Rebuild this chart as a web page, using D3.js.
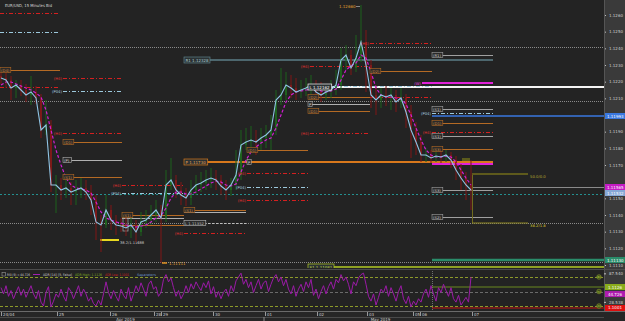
<!DOCTYPE html>
<html><head><meta charset="utf-8">
<script src="https://cdn.jsdelivr.net/npm/d3@7"></script>
<style>
html,body{margin:0;padding:0;background:#232323;overflow:hidden;}
svg{display:block;}
text{font-family:"DejaVu Sans",sans-serif;}
</style></head><body>
<svg id="c" width="625" height="321"></svg>
<script>
// ---------- DATA ----------
const firstOpen = 1.12234;
const closes = [1.12222,1.12210,1.12162,1.12180,1.12150,1.12120,1.12138,1.12102,1.11910,1.11940,
 1.11580,1.11580,1.11550,1.11562,1.11538,1.11550,1.11562,1.11538,1.11490,1.11358,
 1.11340,1.11430,1.11370,1.11340,1.11334,1.11322,1.11340,1.11298,1.11358,1.11370,
 1.11400,1.11430,1.11382,1.11580,1.11610,1.11550,1.11520,1.11502,1.11550,1.11580,
 1.11592,1.11610,1.11622,1.11610,1.11574,1.11550,1.11580,1.11640,1.11820,1.11838,
 1.11850,1.11838,1.11862,1.11880,1.11910,1.12090,1.12120,1.12180,1.12162,1.12138,
 1.12150,1.12162,1.12180,1.12138,1.12120,1.12138,1.12150,1.12180,1.12330,1.12360,
 1.12282,1.12342,1.12438,1.12300,1.12120,1.12090,1.12120,1.12108,1.12120,1.12078,
 1.12102,1.12018,1.11910,1.11838,1.11760,1.11760,1.11742,1.11754,1.11748,1.11760,
 1.11730,1.11670,1.11622,1.11580,1.11550];
const highs = [1.1227,1.12258,1.12234,1.1221,1.1221,1.12186,1.12234,1.12174,1.12126,1.1209,
 1.1197,1.1164,1.11622,1.1161,1.11598,1.1161,1.11622,1.1161,1.1158,1.1152,
 1.1140,1.1152,1.1146,1.1140,1.11382,1.11382,1.1140,1.1137,1.11418,1.1143,
 1.1146,1.1149,1.1146,1.1167,1.11742,1.1164,1.11598,1.11562,1.1161,1.1164,
 1.11658,1.1167,1.11682,1.1167,1.1164,1.1161,1.11622,1.1179,1.1191,1.11922,
 1.11934,1.1191,1.11922,1.1194,1.1200,1.1215,1.12282,1.12258,1.1224,1.12222,
 1.1221,1.12222,1.1224,1.1221,1.12198,1.12186,1.1221,1.1227,1.12402,1.1242,
 1.1239,1.1248,1.1266,1.1251,1.1233,1.1218,1.12162,1.12174,1.12162,1.1215,
 1.12162,1.12126,1.1206,1.11958,1.1188,1.11802,1.1179,1.1179,1.1179,1.1179,
 1.11778,1.11754,1.11706,1.11658,1.1173];
const lows = [1.12186,1.12162,1.1209,1.12102,1.12114,1.12078,1.1206,1.12066,1.11862,1.1188,
 1.11538,1.11412,1.1149,1.11502,1.1146,1.1146,1.11502,1.1149,1.1140,1.1125,
 1.11178,1.11322,1.1131,1.1128,1.11298,1.11274,1.11262,1.11238,1.11274,1.11322,
 1.1134,1.11358,1.11112,1.11358,1.1155,1.11502,1.1146,1.11454,1.1146,1.1152,
 1.11538,1.1155,1.11562,1.1155,1.1152,1.1149,1.11514,1.1155,1.1161,1.1179,
 1.1179,1.1176,1.1179,1.11802,1.1179,1.1188,1.1206,1.1209,1.12102,1.1209,
 1.12102,1.12114,1.1212,1.1209,1.12078,1.1209,1.12102,1.1212,1.1215,1.1227,
 1.1224,1.12258,1.12318,1.12138,1.12042,1.1200,1.12042,1.12054,1.1203,1.12018,
 1.12042,1.11922,1.11742,1.1176,1.11718,1.11718,1.11712,1.11718,1.11712,1.11718,
 1.11682,1.1161,1.1155,1.1149,1.1143];
const maValues = [1.1218,1.12198,1.12198,1.12186,1.12174,1.12162,1.1215,1.12132,1.12108,1.1203,
 1.1191,1.1179,1.1170,1.11622,1.1158,1.11562,1.11556,1.1155,1.11532,1.11478,
 1.11418,1.11382,1.1137,1.11358,1.11352,1.1134,1.11334,1.11328,1.11334,1.1134,
 1.11358,1.11382,1.11394,1.11442,1.11502,1.11538,1.11538,1.11526,1.11526,1.11538,
 1.11556,1.11574,1.11592,1.11604,1.11598,1.1158,1.11574,1.11586,1.11658,1.1173,
 1.11778,1.11808,1.11832,1.1185,1.11862,1.11922,1.1200,1.12078,1.1212,1.12138,
 1.12144,1.1215,1.12156,1.12156,1.12144,1.12138,1.12144,1.12156,1.1221,1.1227,
 1.12294,1.12312,1.1236,1.12342,1.12258,1.12162,1.1212,1.12108,1.12108,1.12102,
 1.12096,1.12066,1.1200,1.11922,1.1185,1.1179,1.1176,1.11748,1.11748,1.11754,
 1.11748,1.11718,1.1167,1.11622,1.1158];
// RSI sampled every half bar
const rsiValues = [58,45,62,40,52,35,48,60,42,55,
 38,50,62,45,35,52,28,20,48,60,
 18,30,45,38,55,40,30,58,50,35,
 48,62,40,55,45,30,38,25,20,32,
 22,45,70,48,35,52,40,30,55,42,
 35,58,30,45,62,50,68,55,40,65,
 72,55,60,40,48,75,85,70,78,58,
 40,52,35,45,62,48,66,55,70,60,
 52,68,58,72,45,60,38,50,35,48,
 55,40,62,50,72,80,88,65,75,58,
 70,48,62,75,55,68,72,50,65,78,
 85,70,80,62,75,55,45,62,40,55,
 65,50,70,58,75,42,55,35,50,62,
 45,60,70,55,75,68,85,72,80,65,
 45,70,62,78,85,88,65,40,30,45,
 22,38,55,48,62,40,58,45,30,50,
 62,35,25,40,18,30,22,35,28,45,
 55,38,62,45,30,58,48,65,52,40,
 58,35,28,42,22,30,38,28,80];

const priceTicks = [1.1260,1.1250,1.1240,1.1230,1.1220,1.1210,1.1190,1.1180,1.1170,1.1150,1.1140,1.1130,1.1120,1.1110];
const timeTickPos = [0.2,11.4,22,30.8,32.2,42.6,53,63.4,73.4,82.6,84,94.4];
const timeTickLabels = ["24/04","25","26","28","29","30","01","02","03","05","06","07"];
const monthPos = [25,76];
const monthLabels = ["Apr 2019","May 2019"];
const monthSplit = 52.8;

// level segments: [kind, price, startBar, endBar, label]
const levelRows = [
 ["H4",1.12612,0,12,""],["P04",1.12498,0,12,""],["D",1.12270,0,12,"(D4)"],["H4",1.12168,0,12,""],
 ["H4",1.12222,12.6,24.4,"(H4)"],["P04",1.12144,12.6,24.4,"(P04)"],["H4",1.11892,12.6,24.4,"(H4)"],
 ["D",1.11838,12.6,24.4,"(D1)"],["P",1.11730,12.6,24.4,"(P)"],["D",1.11628,12.6,24.4,"(S1)"],
 ["H4",1.11580,24.4,36.8,"(H4)"],["P04",1.11532,24.4,36.8,"(P04)"],["D",1.11400,24.4,36.8,"(S1)"],
 ["P",1.11382,24.4,36.8,""],["D",1.11340,24.4,36.8,""],["Y",1.11250,20,23.8,""],
 ["D",1.11430,36.8,49.2,"(S1)"],["P",1.11418,36.8,49.2,""],["PD",1.11352,36.8,49.2,"L 1.11352"],["H4",1.11292,36.8,49.2,"(H4)"],
 ["D",1.11790,49.4,61.6,"(D1)"],["P",1.11718,49.4,61.6,"P"],["H4",1.11652,49.4,61.6,"(H4)"],
 ["P04",1.11568,49.4,61.6,"(P04)"],["H4",1.11490,49.4,61.6,"(H4)"],
 ["H4",1.12294,62,73.6,"(H4)"],["D",1.12108,61.6,74,"(D2)"],["P",1.12066,61.6,74,"P"],
 ["D",1.12024,61.6,74,"(D1)"],["H4",1.11892,62,74,"(H4)"],
 ["H4",1.12432,74,86.4,"(H4)"],["D",1.12264,74,86.4,"(D2)"],["H4",1.12108,74,86.4,""],
 ["S",1.12360,86.4,98.6,"(R1)"],["W",1.12192,84.4,98.6,"(W)"],["S",1.12036,86.4,98.6,"(S1)"],
 ["P04",1.12012,86.4,98.6,"(P04)"],["D",1.11952,86.4,98.6,"(D1)"],["H4",1.11898,86.4,98.6,"(H4)"],
 ["S",1.11874,86.4,98.6,"(S1)"],["D",1.11796,86.4,98.6,"(S3)"],["S",1.11550,86.4,98.6,"(S3)"],
 ["S",1.11388,86.4,98.6,"(S2)"],
 ["PW",1.11718,36.8,98.6,"P 1.11730"],["W",1.11706,86.4,98.6,""],
 ["R1",1.12330,36.8,98.6,"R1 1.12328"],
 ["WH",1.12168,61.6,120.8,"L 1.12162"],["P04",1.12174,61.6,86.4,""],
 ["BLUE",1.11994,86.4,120.8,""],["TEAL",1.11130,86.4,120.8,""],
 ["S1W",1.11088,61.6,120.8,"S1 1.11081"],["CUR",1.11568,94.4,120.8,""]
];
const gridLevels = [1.12408,1.12084,1.11352,1.11118];
const gridTeal = [1.11526];
const fibTop = 1.11646, fibBottom = 1.11352, fibStart = 94.4, fibEnd = 105.6;
const fibLabels = ["50.0/0.0","38.2/1.8"];
const axisTags = [[1.11994,"1.11993","#3a78e0"],[1.11568,"1.11565","#c41cc4"],[1.11532,"1.11532","#86a8d6"],[1.11130,"1.11130","#2a8c6a"]];
const rsiAxisTicks = [87.54,28.538];
const rsiGuides = [80,50,20];
const adrHigh = 59.3, adrLow = 15.9;
const rsiTags = [[59.3,"1.1126","#8aac1c"],[44.726,"44.726","#b01cb0"],[15.9,"1.1001","#e01010"]];

// ---------- SETUP ----------
const svg = d3.select("#c");
const W = 625, PR = 604, MAINB = 268;
const x = d3.scaleLinear().domain([0,120.8]).range([0,PR]);
const y = d3.scaleLinear().domain([1.11082,1.1269]).range([MAINB,0]);
const ry = d3.scaleLinear().domain([20,80]).range([306,277]);

svg.append("rect").attr("width",W).attr("height",321).attr("fill","#232323");
svg.append("rect").attr("x",PR).attr("y",0).attr("width",W-PR).attr("height",312).attr("fill","#3a3a3a");
svg.append("rect").attr("x",0).attr("y",312).attr("width",W).attr("height",9).attr("fill","#262626");

const defs = svg.append("defs");
defs.append("clipPath").attr("id","mc").append("rect").attr("x",0).attr("y",0).attr("width",PR).attr("height",MAINB);
defs.append("clipPath").attr("id","rc").append("rect").attr("x",0).attr("y",270).attr("width",PR).attr("height",41);

const main = svg.append("g").attr("clip-path","url(#mc)");

// title
svg.append("text").attr("x",5).attr("y",6.5).attr("font-size",4).attr("fill","#d8d8d8")
 .attr("textLength",47).attr("lengthAdjust","spacingAndGlyphs").text("EUR/USD, 15 Minutes Bid");

// grid dotted lines
main.selectAll(".gl").data(gridLevels).join("line")
 .attr("x1",0).attr("x2",PR).attr("y1",d=>Math.round(y(d))+0.5).attr("y2",d=>Math.round(y(d))+0.5)
 .attr("stroke","#8a8a8a").attr("stroke-dasharray","1,1").attr("stroke-width",1);
main.selectAll(".gt").data(gridTeal).join("line")
 .attr("x1",0).attr("x2",PR).attr("y1",d=>Math.round(y(d))+0.5).attr("y2",d=>Math.round(y(d))+0.5)
 .attr("stroke","#249090").attr("stroke-dasharray","2,2").attr("stroke-width",1);

// level style map
const st = {
 H4:{c:"#d42020",w:1,d:"4,2,1,2",tc:"#e03030",lab:"before"},
 P04:{c:"#9cc8dc",w:1,d:"4,2,1,2",tc:"#a8d0e0",lab:"before"},
 D:{c:"#b46a24",w:1,d:null,tc:"#d48a3a",lab:"box"},
 P:{c:"#b0b0b0",w:1,d:null,tc:"#d0d0d0",lab:"box"},
 S:{c:"#a0a0a0",w:1,d:null,tc:"#d0d0d0",lab:"box"},
 W:{c:"#e020d8",w:2,d:null,tc:"#e040e0",lab:"before"},
 PW:{c:"#d8781c",w:2,d:null,tc:"#e8a050",lab:"tag"},
 WH:{c:"#f4f4f4",w:2,d:null,tc:"#ffffff",lab:"tag"},
 R1:{c:"#5c7f88",w:1.5,d:null,tc:"#a8c8d0",lab:"tag"},
 S1W:{c:"#b4cc26",w:1.5,d:null,tc:"#c0d840",lab:"tag"},
 BLUE:{c:"#3a78e0",w:1.5,d:null},
 TEAL:{c:"#2a8c6a",w:2.5,d:null},
 Y:{c:"#e8d820",w:2,d:null},
 PD:{c:"#bbbbbb",w:1,d:"2,2",tc:"#bbbbbb",lab:"box"},
 CUR:{c:"#8a8a8a",w:1,d:null}
};

const lv = main.append("g");
levelRows.forEach(r=>{
  const s = st[r[0]]; const yy = Math.round(y(r[1]))+ (s.w%2===1?0.5:0);
  const l = lv.append("line").attr("x1",x(r[2])).attr("x2",x(r[3])).attr("y1",yy).attr("y2",yy)
    .attr("stroke",s.c).attr("stroke-width",s.w);
  if (s.d) l.attr("stroke-dasharray",s.d);
});

// fib box
const fb = main.append("g");
fb.append("line").attr("x1",x(fibStart)+0.5).attr("x2",x(fibStart)+0.5).attr("y1",y(fibTop)).attr("y2",y(fibBottom)).attr("stroke","#6e6a1e").attr("stroke-width",1);
[fibTop,fibBottom].forEach((p,i)=>{
  fb.append("line").attr("x1",x(fibStart)).attr("x2",x(fibEnd)).attr("y1",y(p)).attr("y2",y(p)).attr("stroke",i? "#8c8420":"#5e5a1c").attr("stroke-width",i?1:2);
  fb.append("text").attr("x",x(fibEnd)+2).attr("y",y(p)+4).attr("font-size",3.8).attr("fill",i?"#d8c830":"#b8a830").text(fibLabels[i]);
});
fb.append("rect").attr("x",x(92.4)).attr("y",y(1.11742)).attr("width",8).attr("height",3).attr("fill","#5a5a1c");
// gray box near Apr 26
main.append("rect").attr("x",x(24.6)).attr("y",y(1.11400)).attr("width",5).attr("height",y(1.11304)-y(1.11400)).attr("fill","none").attr("stroke","#9a9a9a").attr("stroke-width",0.8);
main.append("text").attr("x",x(24)).attr("y",y(1.11240)+2).attr("font-size",3.6).attr("fill","#cfcfcf").text("38.2/1.11688");

// candles
const bars = closes.map((c,i)=>{
  const o = i===0?firstOpen:closes[i-1];
  return {i,o,c,h:Math.max(highs[i],o,c),l:Math.min(lows[i],o,c)};
});
const cg = main.append("g");
cg.selectAll(".wk").data(bars).join("line")
 .attr("x1",d=>x(d.i)+1).attr("x2",d=>x(d.i)+1).attr("y1",d=>y(d.h)).attr("y2",d=>y(d.l))
 .attr("stroke",d=>d.c>=d.o?"#1d631d":"#801616").attr("stroke-width",1);
cg.selectAll(".bd").data(bars).join("rect")
 .attr("x",d=>x(d.i)+0.25).attr("width",1.5)
 .attr("y",d=>y(Math.max(d.o,d.c))).attr("height",d=>Math.max(1,Math.abs(y(d.o)-y(d.c))))
 .attr("fill",d=>d.c>=d.o?"#1f6e1f":"#8a1818");

// moving average (dashed magenta)
main.append("path").datum(maValues).attr("fill","none").attr("stroke","#d21ed2").attr("stroke-width",1.2)
 .attr("stroke-dasharray","3,2").attr("d",d3.line().x((d,i)=>x(i)+1).y(d=>y(d)));
// close line
main.append("path").datum(closes).attr("fill","none").attr("stroke","#8fc4e4").attr("stroke-width",1.1)
 .attr("d",d3.line().x((d,i)=>x(i)+1).y(d=>y(d)));

// level labels
const lb = main.append("g");
levelRows.forEach(r=>{
  const s = st[r[0]]; if(!r[4]||!s.lab) return;
  const yy = y(r[1]); const x0 = x(r[2]);
  if (s.lab==="before"){
    lb.append("text").attr("x",x0-1).attr("y",yy+1.5).attr("text-anchor","end").attr("font-size",3.8).attr("fill",s.tc).text(r[4]);
  } else if (s.lab==="box"){
    const w = r[4].length*2.2+2;
    lb.append("rect").attr("x",x0).attr("y",yy-2.5).attr("width",w).attr("height",5).attr("fill","#2a2a2a").attr("stroke",s.c).attr("stroke-width",0.6);
    lb.append("text").attr("x",x0+1).attr("y",yy+1.5).attr("font-size",3.8).attr("fill",s.tc).text(r[4]);
  } else {
    const w = r[4].length*2.3+3;
    lb.append("rect").attr("x",x0).attr("y",yy-3).attr("width",w).attr("height",6).attr("fill","#2b3234").attr("stroke",s.c).attr("stroke-width",0.7);
    lb.append("text").attr("x",x0+1.5).attr("y",yy+1.6).attr("font-size",4).attr("fill",s.tc).text(r[4]);
  }
});
// high marker & low marker
const hiI = d3.maxIndex(highs), loI = d3.minIndex(lows);
main.append("text").attr("x",x(hiI)-21).attr("y",y(highs[hiI])+3).attr("font-size",4).attr("fill","#e0a030").text(highs[hiI].toFixed(5));
main.append("line").attr("x1",x(hiI)-4).attr("x2",x(hiI)).attr("y1",y(highs[hiI])+1.5).attr("y2",y(highs[hiI])+1.5).attr("stroke","#888").attr("stroke-width",1);
main.append("line").attr("x1",x(loI)+2).attr("x2",x(loI)+7).attr("y1",y(lows[loI])).attr("y2",y(lows[loI])).attr("stroke","#e09020").attr("stroke-width",1.5);
main.append("text").attr("x",x(loI)+9).attr("y",y(lows[loI])+1.6).attr("font-size",4).attr("fill","#e0a030").text("1.11111");

// price axis
const gy = svg.append("g").attr("transform",`translate(${PR},0)`)
 .call(d3.axisRight(y).tickValues(priceTicks).tickSize(2).tickFormat(d3.format(".4f")));
gy.select(".domain").remove();
gy.selectAll("line").attr("stroke","#c0c0c0");
gy.selectAll("text").attr("fill","#cfcfcf").attr("font-size",4).attr("x",5).attr("font-family","DejaVu Sans");
axisTags.forEach(t=>{
  const yy=y(t[0]);
  svg.append("rect").attr("x",PR+1).attr("y",yy-3).attr("width",20).attr("height",6).attr("fill",t[2]);
  svg.append("text").attr("x",PR+3).attr("y",yy+1.5).attr("font-size",4).attr("fill","#fff").text(t[1]);
});
svg.append("line").attr("x1",PR+0.5).attr("x2",PR+0.5).attr("y1",0).attr("y2",312).attr("stroke","#555");

// ---------- RSI PANEL ----------
svg.append("line").attr("x1",0).attr("x2",W).attr("y1",269.5).attr("y2",269.5).attr("stroke","#4c4c4c");
const rp = svg.append("g").attr("clip-path","url(#rc)");
rsiGuides.forEach(v=>{
  rp.append("line").attr("x1",0).attr("x2",PR).attr("y1",Math.round(ry(v))+0.5).attr("y2",Math.round(ry(v))+0.5)
   .attr("stroke",v===50?"#6a6a6a":"#8c9a2a").attr("stroke-dasharray","3,2").attr("stroke-width",1);
});
rp.append("line").attr("x1",x(86.4)+0.5).attr("x2",x(86.4)+0.5).attr("y1",271).attr("y2",311).attr("stroke","#707070").attr("stroke-dasharray","1,1");
rp.append("line").attr("x1",x(86.4)).attr("x2",PR).attr("y1",ry(adrHigh)).attr("y2",ry(adrHigh)).attr("stroke","#6a8a20").attr("stroke-width",1);
rp.append("line").attr("x1",x(86.4)).attr("x2",PR).attr("y1",ry(adrLow)).attr("y2",ry(adrLow)).attr("stroke","#c01414").attr("stroke-width",1.2);
rp.append("path").datum(rsiValues).attr("fill","none").attr("stroke","#9a1aa6").attr("stroke-width",1)
 .attr("d",d3.line().x((d,i)=>x(i/2)+1).y(d=>ry(d)));
rsiGuides.forEach(v=>{
  svg.append("circle").attr("cx",599).attr("cy",ry(v)).attr("r",2.3).attr("fill","#3a4a1a").attr("stroke","#8c9a2a").attr("stroke-width",0.6);
  svg.append("text").attr("x",599).attr("y",ry(v)+1.1).attr("text-anchor","middle").attr("font-size",2.8).attr("fill","#c0d040").text(v);
});
// legend
const lg = svg.append("g").attr("font-size",3.4);
const legendItems = [[7,23,"#cfcfcf","RSI (9) = 44.726"],[43,29,"#cfcfcf","ADR [14] [5, False]"],[75,27,"#80b020","ADR High: 1.1126"],[105,24,"#d82020","ADR Low: 1.1001"],[137,19,"#6a94cc","Separators"]];
lg.append("rect").attr("x",2).attr("y",272.5).attr("width",3.5).attr("height",3.5).attr("fill","none").attr("stroke","#999").attr("stroke-width",0.6);
lg.append("line").attr("x1",33).attr("x2",40).attr("y1",274.5).attr("y2",274.5).attr("stroke","#a020b0").attr("stroke-width",1);
legendItems.forEach(it=>{
  lg.append("text").attr("x",it[0]).attr("y",276).attr("fill",it[2]).attr("textLength",it[1]).attr("lengthAdjust","spacingAndGlyphs").text(it[3]);
});
// rsi axis
const gr = svg.append("g").attr("transform",`translate(${PR},0)`)
 .call(d3.axisRight(ry).tickValues(rsiAxisTicks).tickSize(2).tickFormat(d3.format(".3f")));
gr.select(".domain").remove();
gr.selectAll("line").attr("stroke","#c0c0c0");
gr.selectAll("text").attr("fill","#cfcfcf").attr("font-size",4).attr("x",5);
rsiTags.forEach(t=>{
  const yy=ry(t[0]);
  svg.append("rect").attr("x",PR+1).attr("y",yy-3).attr("width",20).attr("height",6).attr("fill",t[2]);
  svg.append("text").attr("x",PR+4).attr("y",yy+1.5).attr("font-size",4).attr("fill","#fff").text(t[1]);
});

// ---------- TIME AXIS ----------
svg.append("line").attr("x1",0).attr("x2",W).attr("y1",311.5).attr("y2",311.5).attr("stroke","#6a6a6a");
svg.append("line").attr("x1",0).attr("x2",PR).attr("y1",317.5).attr("y2",317.5).attr("stroke","#4a4a4a");
const gx = svg.append("g").attr("transform","translate(0,312)")
 .call(d3.axisBottom(x).tickValues(timeTickPos).tickSize(4).tickFormat((d,i)=>timeTickLabels[i]));
gx.select(".domain").remove();
gx.selectAll("line").attr("stroke","#9a9a9a");
gx.selectAll("text").attr("text-anchor","start").attr("x",1.5).attr("y",3.6).attr("dy",0).attr("fill","#cfcfcf").attr("font-size",4);
const gm = svg.append("g").attr("transform","translate(0,317)")
 .call(d3.axisBottom(x).tickValues(monthPos).tickSize(0).tickFormat((d,i)=>monthLabels[i]));
gm.select(".domain").remove();
gm.selectAll("text").attr("y",3.6).attr("dy",0).attr("fill","#cfcfcf").attr("font-size",4);
svg.append("line").attr("x1",x(monthSplit)).attr("x2",x(monthSplit)).attr("y1",317).attr("y2",321).attr("stroke","#8a8a8a");
</script>
</body></html>
